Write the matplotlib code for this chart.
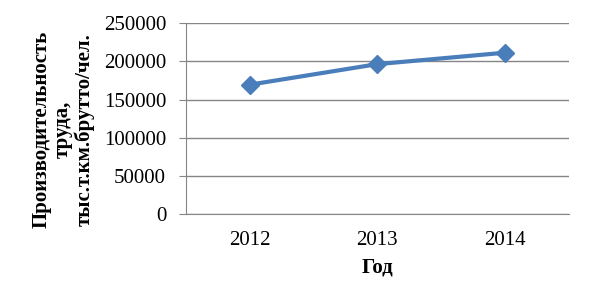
import matplotlib.pyplot as plt

years = ['2012', '2013', '2014']
productivity = [169500, 196500, 211500]

plt.rcParams['font.family'] = ['Liberation Serif', 'DejaVu Serif']

fig = plt.figure(figsize=(5.93, 3.07), dpi=100)
ax = fig.add_axes([0.313, 0.303, 0.6465, 0.621])

grid_col = '#868686'
x = range(len(years))
ax.plot(x, productivity, color='#4A7EBB', linewidth=3, marker='D', markersize=9,
        zorder=3)

ax.set_xlim(-0.5, len(years) - 0.5)
ax.set_ylim(0, 250000)
ax.set_yticks(range(0, 250001, 50000))
ax.set_xticks(list(x))
ax.set_xticklabels(years)
ax.yaxis.grid(True, color=grid_col, linewidth=1)
ax.set_axisbelow(True)

for s in ['top', 'right']:
    ax.spines[s].set_visible(False)
ax.spines['left'].set_color(grid_col)
ax.spines['bottom'].set_color(grid_col)
ax.tick_params(axis='y', colors=grid_col, labelcolor='black', length=5, labelsize=15, pad=9)
ax.tick_params(axis='x', length=0, labelsize=15, pad=12)

ax.set_xlabel('Год', fontsize=15, fontweight='bold', labelpad=6)
fig.text(63 / 593, 1 - 129.5 / 307, 'Производительность\nтруда,\nтыс.т.км.брутто/чел.',
         fontsize=15, fontweight='bold', rotation=90, ha='center', va='center',
         multialignment='center', linespacing=1.1)

fig.savefig('out.png', dpi=100)
